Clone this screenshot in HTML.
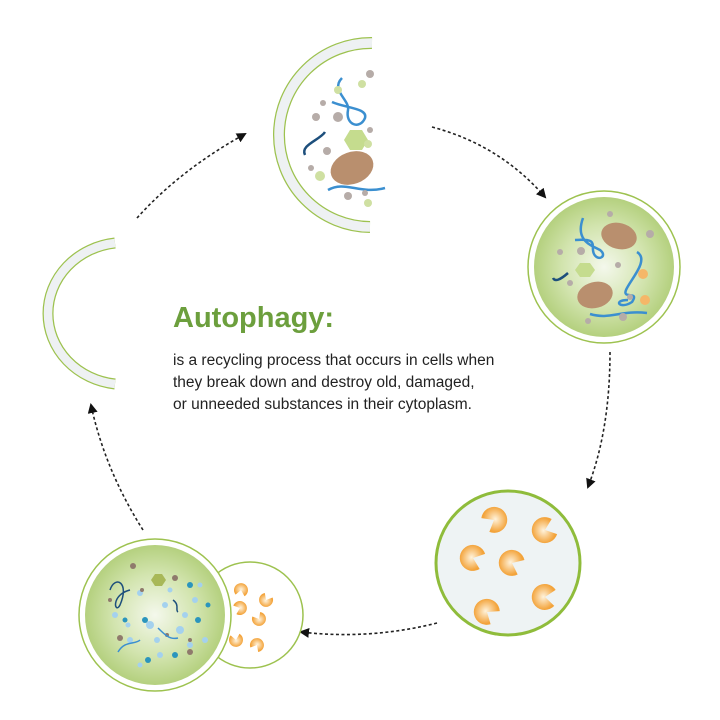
<!DOCTYPE html>
<html><head><meta charset="utf-8"><style>
body{margin:0;background:#fff;width:720px;height:720px;overflow:hidden}
.t{position:absolute;left:173px;font-family:"Liberation Sans",sans-serif}
</style></head><body>
<svg width="720" height="720" viewBox="0 0 720 720" style="position:absolute;left:0;top:0">
<defs>
<radialGradient id="g" cx="50%" cy="50%" r="50%"><stop offset="0" stop-color="#f4f8ec"/><stop offset="0.6" stop-color="#d2e4ae"/><stop offset="1" stop-color="#b4d07e"/></radialGradient>
<radialGradient id="o" cx="50%" cy="50%" r="50%"><stop offset="0" stop-color="#fff3dc"/><stop offset="1" stop-color="#f3a33a"/></radialGradient>
<path id="pac" d="M0 0 L10 -8 A13 13 0 1 0 10 8 Z" fill="url(#o)"/>
<path id="pac2" d="M0 0 L5.5 -4.5 A7 7 0 1 0 5.5 4.5 Z" fill="url(#o)"/>
<marker id="ah" markerWidth="10" markerHeight="10" refX="8" refY="5" orient="auto" markerUnits="userSpaceOnUse"><path d="M0 0 L10 5 L0 10 Z" fill="#111"/></marker>
</defs>
<g stroke="#222" stroke-width="1.6" stroke-dasharray="3 2.5" fill="none" marker-end="url(#ah)">
<path d="M137 218 Q180 170 245 134"/>
<path d="M432 127 Q500 145 545 197"/>
<path d="M610 352 Q610 430 588 487"/>
<path d="M437 623 Q370 640 301 632"/>
<path d="M143 530 Q105 470 91 405"/>
</g>
<!-- top half cell -->
<path d="M372 43 A92 92 0 0 0 370 227" fill="none" stroke="#9dc24f" stroke-width="12"/>
<path d="M372 43 A92 92 0 0 0 370 227" fill="none" stroke="#eef1f3" stroke-width="9.5"/>
<g fill="none" stroke-width="2.5">
<path d="M342 78 C330 90 350 100 348 110 C345 125 360 130 365 118 C368 108 345 108 332 102" stroke="#3b8fd0"/>
<path d="M305 155 C300 145 320 140 325 132" stroke="#1d4f7c"/>
<path d="M328 190 C345 180 360 195 385 188" stroke="#3b8fd0"/>
</g>
<ellipse cx="352" cy="168" rx="22" ry="16" fill="#b98f6e" transform="rotate(-20 352 168)"/>
<polygon points="350,130 362,130 368,140 362,150 350,150 344,140" fill="#c5dc8e"/>
<g fill="#b6aca8"><circle cx="370" cy="74" r="4"/><circle cx="323" cy="103" r="3"/><circle cx="316" cy="117" r="4"/><circle cx="338" cy="117" r="5"/><circle cx="370" cy="130" r="3"/><circle cx="311" cy="168" r="3"/><circle cx="327" cy="151" r="4"/><circle cx="348" cy="196" r="4"/><circle cx="365" cy="193" r="3"/></g>
<g fill="#cfe0a2"><circle cx="338" cy="90" r="4"/><circle cx="362" cy="84" r="4"/><circle cx="368" cy="144" r="4"/><circle cx="320" cy="176" r="5"/><circle cx="368" cy="203" r="4"/></g>
<!-- right cell -->
<circle cx="604" cy="267" r="76" fill="#fff" stroke="#9dc24f" stroke-width="1.5"/>
<circle cx="604" cy="267" r="70" fill="url(#g)"/>
<g fill="none" stroke-width="2.5">
<path d="M583 218 C575 240 590 245 600 250 C608 256 598 262 594 254 C590 246 600 238 575 240" stroke="#3b8fd0"/>
<path d="M637 252 C650 260 630 280 626 290 C622 300 640 290 632 302 C620 310 612 300 628 300" stroke="#3b8fd0"/>
<path d="M590 314 C610 320 620 310 647 313" stroke="#3b8fd0"/>
<path d="M568 273 C560 280 555 282 553 278" stroke="#1d4f7c"/>
</g>
<ellipse cx="619" cy="236" rx="18" ry="13" fill="#b98f6e" transform="rotate(15 619 236)"/>
<ellipse cx="595" cy="295" rx="18" ry="13" fill="#b98f6e" transform="rotate(-15 595 295)"/>
<polygon points="580,263 590,263 595,270 590,277 580,277 575,270" fill="#c5dc8e"/>
<circle cx="643" cy="274" r="5" fill="#f5b768"/><circle cx="645" cy="300" r="5" fill="#f5b768"/>
<g fill="#b6aca8"><circle cx="610" cy="214" r="3"/><circle cx="650" cy="234" r="4"/><circle cx="581" cy="251" r="4"/><circle cx="560" cy="252" r="3"/><circle cx="570" cy="283" r="3"/><circle cx="623" cy="317" r="4"/><circle cx="588" cy="321" r="3"/><circle cx="618" cy="265" r="3"/><circle cx="630" cy="297" r="3"/></g>
<!-- bottom right -->
<circle cx="508" cy="563" r="72" fill="#eef3f4" stroke="#8fbc3b" stroke-width="3"/>
<use href="#pac" transform="translate(494 520) rotate(150)"/>
<use href="#pac" transform="translate(545 530) rotate(-20)"/>
<use href="#pac" transform="translate(473 558) rotate(20)"/>
<use href="#pac" transform="translate(512 563) rotate(25)"/>
<use href="#pac" transform="translate(545 597) rotate(5)"/>
<use href="#pac" transform="translate(487 612) rotate(35)"/>
<!-- bottom left -->
<circle cx="250" cy="615" r="53" fill="#fff" stroke="#9dc24f" stroke-width="1.5"/>
<circle cx="155" cy="615" r="76" fill="#fff" stroke="#9dc24f" stroke-width="1.5"/>
<circle cx="155" cy="615" r="70" fill="url(#g)"/>
<g fill="#a4d1ee"><circle cx="140" cy="593" r="3"/><circle cx="165" cy="605" r="3"/><circle cx="180" cy="630" r="4"/><circle cx="130" cy="640" r="3"/><circle cx="160" cy="655" r="3"/><circle cx="195" cy="600" r="3"/><circle cx="115" cy="615" r="3"/><circle cx="205" cy="640" r="3"/><circle cx="150" cy="625" r="4"/><circle cx="185" cy="615" r="3"/><circle cx="170" cy="590" r="2.5"/><circle cx="128" cy="625" r="2.5"/><circle cx="190" cy="645" r="3"/><circle cx="157" cy="640" r="3"/><circle cx="200" cy="585" r="2.5"/><circle cx="140" cy="665" r="2.5"/></g>
<g fill="#2b95bd"><circle cx="190" cy="585" r="3"/><circle cx="145" cy="620" r="3"/><circle cx="198" cy="620" r="3"/><circle cx="148" cy="660" r="3"/><circle cx="175" cy="655" r="3"/><circle cx="208" cy="605" r="2.5"/><circle cx="125" cy="620" r="2.5"/></g>
<g fill="#8f7a6c"><circle cx="133" cy="566" r="3"/><circle cx="175" cy="578" r="3"/><circle cx="120" cy="638" r="3"/><circle cx="142" cy="590" r="2"/><circle cx="190" cy="652" r="3"/><circle cx="167" cy="635" r="2"/><circle cx="190" cy="640" r="2"/><circle cx="110" cy="600" r="2"/></g>
<polygon points="155,574 162,574 166,580 162,586 155,586 151,580" fill="#a8b858"/>
<g fill="none" stroke-width="1.5"><path d="M110 590 C115 575 130 582 120 605 C115 615 110 595 130 590" stroke="#1d4f7c"/><path d="M173 600 C180 605 175 610 178 612" stroke="#1d4f7c"/><path d="M118 652 C125 640 135 645 140 640" stroke="#3b8fd0"/><path d="M158 628 C165 635 170 640 178 638" stroke="#3b8fd0"/></g>
<use href="#pac2" transform="translate(241 590) rotate(100)"/>
<use href="#pac2" transform="translate(266 600) rotate(-60)"/>
<use href="#pac2" transform="translate(240 608) rotate(160)"/>
<use href="#pac2" transform="translate(259 619) rotate(-120)"/>
<use href="#pac2" transform="translate(236 640) rotate(-100)"/>
<use href="#pac2" transform="translate(257 645) rotate(120)"/>
<!-- left arc -->
<path d="M115 243 A76 71 0 0 0 115 384" fill="none" stroke="#9dc24f" stroke-width="11"/>
<path d="M115 243 A76 71 0 0 0 115 384" fill="none" stroke="#eef1f3" stroke-width="8.5"/>
</svg>
<div class="t" style="top:302px;font-size:29px;font-weight:bold;color:#6c9f3d">Autophagy:</div>
<div class="t" style="top:350px;font-size:15.5px;line-height:22px;color:#222">is a recycling process that occurs in cells when<br>they break down and destroy old, damaged,<br>or unneeded substances in their cytoplasm.</div>
</body></html>
